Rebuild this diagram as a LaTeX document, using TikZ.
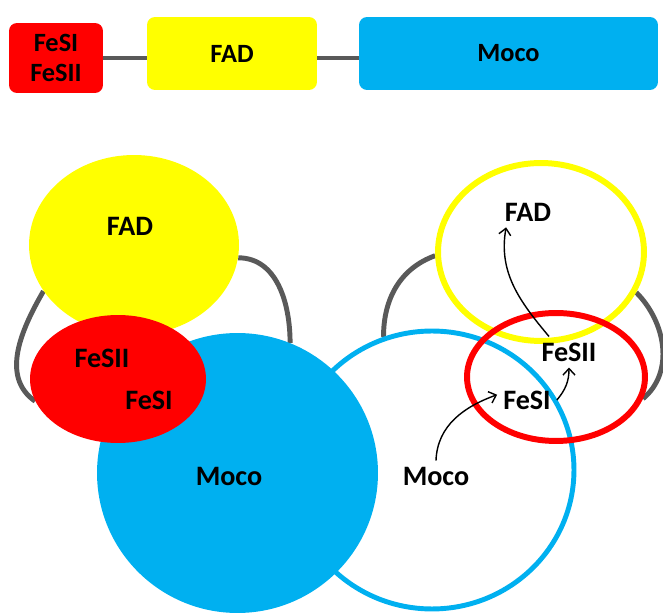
\documentclass[tikz,border=0pt]{standalone}
\usepackage{fontspec}
\setmainfont{Carlito}
\usetikzlibrary{shapes.geometric, arrows.meta, positioning, backgrounds}
\definecolor{fesred}{HTML}{FF0000}
\definecolor{fadyel}{HTML}{FFFF00}
\definecolor{mocoblue}{HTML}{00B0F0}
\definecolor{linkgray}{HTML}{595959}

\begin{document}
\begin{tikzpicture}[
    x=0.02cm, y=-0.02cm,
    every node/.style={font=\fontsize{16}{19}\selectfont\bfseries},
    dom/.style={rounded corners=0.16cm, inner sep=0pt, align=center,
                font=\fontsize{15}{17}\selectfont\bfseries},
    blob/.style={ellipse, inner sep=0pt},
    ring/.style={ellipse, inner sep=0pt, draw, line width=3.4pt},
    link/.style={draw=linkgray, line width=2.8pt},
    arr/.style={-{Straight Barb[length=1.3mm, width=2.4mm]}, line width=0.8pt}
]
    \useasboundingbox (0,0) rectangle (663,614);

    % domain bar
    \node[dom, fill=fesred, minimum width=1.88cm, minimum height=1.4cm] (bred) at (56,58) {FeSI\\FeSII};
    \node[dom, fill=fadyel, minimum width=3.4cm, minimum height=1.46cm] (byel) at (232,53.5) {FAD};
    \node[dom, fill=mocoblue, minimum width=5.98cm, minimum height=1.46cm] (bblu) at (508.5,53.5) {Moco};
    \draw[link] (bred.east) -- (bred.east -| byel.west);
    \draw[link] (byel.east |- bred.east) -- (bred.east -| bblu.west);

    % open form (ring drawn first, under the closed Moco)
    \node[ring, draw=mocoblue, fill=white, line width=2.8pt, minimum width=5.68cm, minimum height=5.56cm] (rblu) at (432,470) {};

    % closed form
    \node[blob, fill=fadyel, minimum width=4.2cm, minimum height=3.6cm] (lyel) at (134,245) {};
    \node[blob, fill=mocoblue, minimum width=5.62cm, minimum height=5.6cm] (lblu) at (237.5,473) {};
    \node[blob, fill=fesred, minimum width=3.52cm, minimum height=2.56cm] (lred) at (118,379) {};
    \node (lfad) at (130,226) {FAD};
    \node (lfesii) at (102,358) {FeSII};
    \node (lfesi) at (149,400) {FeSI};
    \node (lmoco) at (229,476) {Moco};

    % open form
    \node[ring, draw=fadyel, minimum width=4.12cm, minimum height=3.56cm] (ryel) at (541,252) {};
    \node[ring, draw=fesred, minimum width=3.56cm, minimum height=2.56cm] (rred) at (556,377) {};
    \node (rfad) at (528,212) {FAD};
    \node (rfesii) at (569,352) {FeSII};
    \node (rfesi) at (527,400) {FeSI};
    \node (rmoco) at (436,476) {Moco};

    % linkers
    \begin{scope}[on background layer]
        \draw[link] (lyel.207) to[out=240, in=145] (lred.195);
        \draw[link] (lyel.353) to[out=0, in=90] (lblu.68);
        \draw[link] (ryel.182) to[out=200, in=90] (rblu.110);
        \draw[link] (ryel.337) to[out=-45, in=40] (rred.346);
    \end{scope}

    % electron path
    \draw[arr] (rmoco.north) to[out=88, in=200] (rfesi.170);
    \draw[arr] (rfesi.east) to[out=50, in=270] (rfesii.south);
    \draw[arr] ([xshift=-0.4cm]rfesii.north) to[out=130, in=260] (rfad.215);
\end{tikzpicture}
\end{document}
